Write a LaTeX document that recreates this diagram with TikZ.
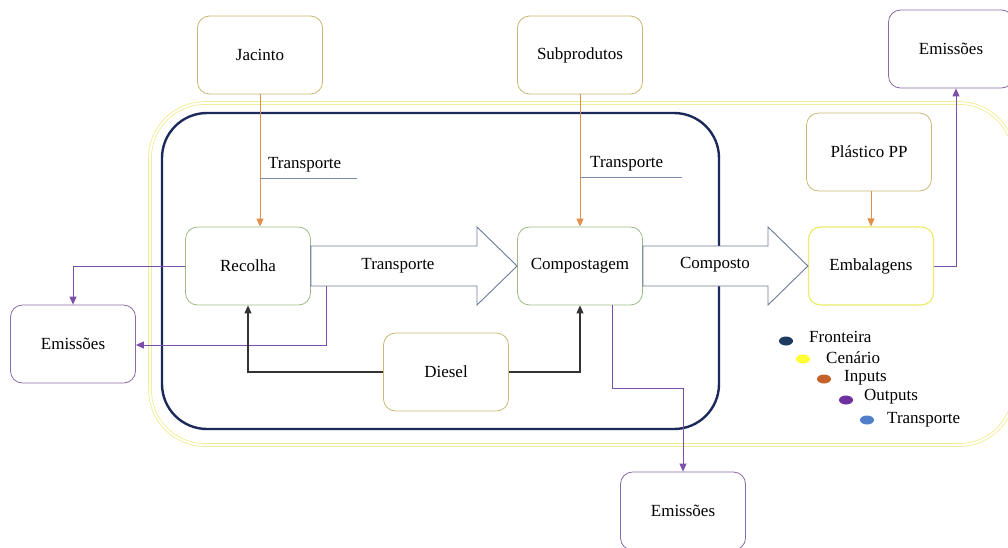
\documentclass[tikz,border=0pt]{standalone}
\usepackage{fontspec}
\setmainfont{Liberation Serif}
\usetikzlibrary{arrows.meta,calc,shapes.geometric}
\definecolor{olive}{HTML}{C9B872}
\definecolor{greenb}{HTML}{9DBB86}
\definecolor{yelb}{HTML}{EDEB6A}
\definecolor{purp}{HTML}{7E4FA8}
\definecolor{purpb}{HTML}{8A6AA8}
\definecolor{orng}{HTML}{E0904A}
\definecolor{tline}{HTML}{7A8AAA}
\definecolor{barrow}{HTML}{6C7A98}
\definecolor{navy}{HTML}{1B2A5A}
\definecolor{outery}{HTML}{F0EC90}
\definecolor{lnavy}{HTML}{1F3A5F}
\definecolor{lyel}{HTML}{FFFF33}
\definecolor{lorng}{HTML}{C5622A}
\definecolor{lpurp}{HTML}{7030A0}
\definecolor{lblue}{HTML}{4F7FC8}
\tikzset{
  box/.style={draw, rounded corners=12pt, minimum width=125pt, minimum height=78pt, line width=0.8pt, font=\fontsize{17}{20}\selectfont, fill=white},
  inbox/.style={box, draw=olive},
  procbox/.style={box, draw=greenb},
  embbox/.style={box, draw=yelb, line width=1.2pt},
  embox/.style={box, draw=purpb},
  lbl/.style={font=\fontsize{17}{20}\selectfont, inner sep=0pt},
  tip/.style={-{Triangle[length=8pt,width=7pt]}},
  inarrow/.style={tip, draw=orng, line width=1pt},
  outarrow/.style={tip, draw=purp, line width=1pt},
  dieselarrow/.style={tip, draw=black!80, line width=1.1pt},
  bigarrow/.style={draw=barrow, line width=0.9pt, fill=white},
  legdot/.style={ellipse, minimum width=14pt, minimum height=9pt, inner sep=0pt},
}
\begin{document}
\begin{tikzpicture}[x=1pt,y=-1pt]
\useasboundingbox (0,0) rectangle (1008,547);
% scenario (outer) and boundary
\draw[draw=outery, line width=0.8pt, double=white, double distance=2pt, rounded corners=55pt] (150,103) rectangle (1014,445);
\draw[draw=navy, line width=2.4pt, rounded corners=45pt] (162,113) rectangle (719,429);

% nodes
\node[inbox] (jac) at (260,55) {Jacinto};
\node[inbox] (sub) at (580,55) {Subprodutos};
\node[embox] (emtr) at (951,49) {Emissões};
\node[procbox] (rec) at (248,266) {Recolha};
\node[procbox] (comp) at (580,266) {Compostagem};
\node[embbox] (emb) at (871,266) {Embalagens};
\node[inbox] (pp) at (869,152) {Plástico PP};
\node[embox] (eml) at (73,344) {Emissões};
\node[inbox] (dies) at (446,372) {Diesel};
\node[embox] (emb2) at (683,511) {Emissões};

% big arrows
\draw[bigarrow] (rec.east |- 0,246) -- (477,246) -- (477,227) -- (comp.west) -- (477,305) -- (477,286) -- (rec.east |- 0,286) -- cycle;
\node[lbl] (tlab) at (398,266) {Transporte};
\draw[bigarrow] (comp.east |- 0,246) -- (768,246) -- (768,227) -- (emb.west) -- (768,305) -- (768,286) -- (comp.east |- 0,286) -- cycle;
\node[lbl] (clab) at (715,265) {Composto};

% input arrows
\draw[inarrow] (jac.south) -- (rec.north -| jac.south);
\draw[inarrow] (sub.south) -- (comp.north);
\draw[inarrow] (pp.south -| emb.north) -- (emb.north);

% transport labels
\node[lbl, anchor=south west] (t1) at (268,172) {Transporte};
\coordinate (t1a) at (260,178);
\coordinate (t1b) at (357,178);
\draw[tline, line width=0.8pt] (t1a) -- (t1b);
\node[lbl, anchor=south west] (t2) at (590,171) {Transporte};
\coordinate (t2a) at (580,177);
\coordinate (t2b) at (682,177);
\draw[tline, line width=0.8pt] (t2a) -- (t2b);

% outputs
\draw[outarrow] (rec.west) -| (eml.north);
\coordinate (po1) at (326,286);
\draw[outarrow] (po1) |- (eml.east |- 0,345);
\coordinate (po2) at (612,305);
\draw[outarrow] (po2) |- (683,388) -- (emb2.north);
\coordinate (po3) at (956,266);
\draw[outarrow] (emb.east) -- (po3) -- (emtr.south -| po3);

% diesel
\draw[dieselarrow] (dies.west) -| (rec.south);
\draw[dieselarrow] (dies.east) -| (comp.south);

% legend
\node[legdot, fill=lnavy] (d1) at (786,341) {};
\node[lbl, anchor=west] (l1) at (809,337) {Fronteira};
\node[legdot, fill=lyel] (d2) at (803,359) {};
\node[lbl, anchor=west] (l2) at (826,358) {Cenário};
\node[legdot, fill=lorng] (d3) at (824,379) {};
\node[lbl, anchor=west] (l3) at (844,378) {Inputs};
\node[legdot, fill=lpurp] (d4) at (846,400) {};
\node[lbl, anchor=west] (l4) at (864,397) {Outputs};
\node[legdot, fill=lblue] (d5) at (867,420) {};
\node[lbl, anchor=west] (l5) at (887,420) {Transporte};
\end{tikzpicture}
\end{document}
